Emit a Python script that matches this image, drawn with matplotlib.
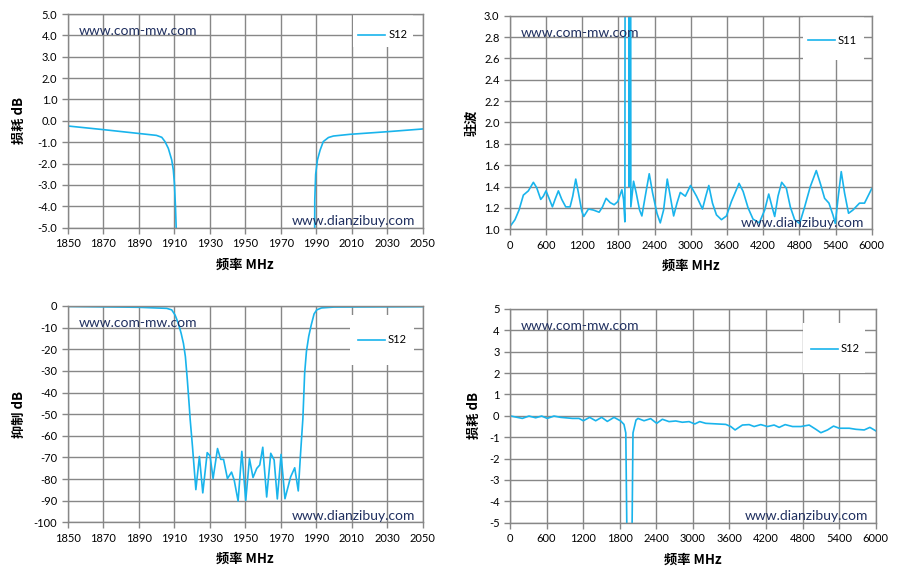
import matplotlib
matplotlib.use('Agg')
import matplotlib.pyplot as plt
from matplotlib.patches import Rectangle

plt.rcParams['font.family'] = ['Lato', 'Noto Sans CJK SC', 'DejaVu Sans']

# S12 插损 (1850-2050 MHz)
loss_f = [1850, 1870, 1890, 1900, 1903, 1904.8, 1906.7, 1908.6, 1909.5, 1910.1, 1910.7, 1911.2, 1912,
          1989, 1989.2, 1989.7, 1990.7, 1992.2, 1994, 1996.9, 1999.7, 2009, 2029.7, 2050]
loss_db = [-0.24, -0.41, -0.59, -0.68, -0.77, -0.97, -1.29, -1.83, -2.3, -2.9, -4.0, -5.2, -9,
           -9, -3.7, -2.5, -1.83, -1.37, -0.97, -0.78, -0.71, -0.63, -0.51, -0.38]

# S11 驻波 (0-6000 MHz)
vswr_f = [0, 83, 150, 222, 305, 388, 443, 510, 554, 598, 648, 704, 748, 803, 859, 925, 997, 1041,
          1091, 1136, 1191, 1224, 1302, 1385, 1479, 1535, 1595, 1662, 1728, 1789, 1856, 1884, 1906,
          1922, 1965, 1975, 1992, 2005, 2050, 2094, 2150, 2188, 2244, 2310, 2366, 2438, 2493, 2548,
          2609, 2659, 2715, 2770, 2825, 2909, 2995, 3094, 3193, 3248, 3298, 3359, 3425, 3508, 3591,
          3673, 3800, 3867, 3950, 4032, 4135, 4225, 4292, 4352, 4391, 4446, 4507, 4584, 4650, 4722,
          4805, 4888, 4982, 5081, 5153, 5219, 5291, 5357, 5396, 5440, 5495, 5550, 5616, 5688, 5798,
          5881, 6000]
vswr = [1.025, 1.09, 1.18, 1.32, 1.36, 1.44, 1.39, 1.28, 1.31, 1.36, 1.29, 1.21, 1.28, 1.36, 1.28,
        1.21, 1.21, 1.31, 1.47, 1.34, 1.17, 1.12, 1.19, 1.18, 1.16, 1.21, 1.29, 1.25, 1.23, 1.26,
        1.37, 1.28, 1.07, 12, 12, 1.4, 12, 1.21, 1.45, 1.34, 1.18, 1.125, 1.31, 1.52, 1.34, 1.15,
        1.06, 1.18, 1.47, 1.31, 1.125, 1.245, 1.345, 1.31, 1.41, 1.31, 1.19, 1.31, 1.41, 1.245,
        1.135, 1.09, 1.125, 1.26, 1.43, 1.355, 1.20, 1.095, 1.06, 1.18, 1.33, 1.20, 1.12, 1.31, 1.44,
        1.385, 1.21, 1.09, 1.055, 1.21, 1.40, 1.55, 1.42, 1.29, 1.245, 1.135, 1.055, 1.28, 1.54,
        1.34, 1.15, 1.18, 1.245, 1.245, 1.38]

# S12 抑制 (1850-2050 MHz)
rej_f = [1850, 1870, 1889.8, 1905.8, 1908.6, 1910.5, 1912.3, 1913.9, 1915.2, 1916.3, 1917.4, 1918.5,
         1919, 1920.3, 1922.2, 1924.2, 1926.1, 1928.6, 1930.2, 1931.9, 1934.4, 1936.2, 1937.8,
         1940, 1942.3, 1943.8, 1946, 1948.1, 1950.3, 1952.4, 1954.4, 1956.5, 1958.2, 1959.9,
         1962.1, 1964.4, 1966.3, 1968.1, 1970.2, 1972.4, 1975.6, 1977.9, 1979.9, 1981.2, 1982.5,
         1983.5, 1984.5, 1985.8, 1987.2, 1988.8, 1990.3, 1993, 2000, 2025, 2050]
rej_db = [-0.2, -0.4, -0.6, -1.1, -1.8, -4.2, -8, -12.6, -17.3, -23.4, -34.2, -46.5,
          -52.5, -65, -84.9, -69.6, -86.4, -67.8, -69.3, -79.8, -65.9, -70.9, -70.9,
          -79.8, -76.8, -80.5, -90.2, -67.2, -89.9, -70.6, -79.3, -75.1, -73.5, -65.3,
          -88.3, -68.1, -71.2, -89.2, -68.6, -89.1, -79, -74.8, -85.5, -68.1, -52,
          -31, -21, -14, -8.8, -3.7, -1.8, -0.9, -0.5, -0.4, -0.3]

# S12 插损 宽带 (0-6000 MHz)
wide_f = [0, 202, 312, 421, 520, 612, 722, 831, 1023, 1132, 1203, 1307, 1406, 1504, 1597, 1707,
          1816, 1870, 1900, 1918, 1925, 1995, 2002, 2018, 2067, 2100, 2199, 2308, 2407, 2500,
          2609, 2719, 2828, 2938, 3031, 3113, 3211, 3540, 3622, 3693, 3813, 3923, 4005, 4114,
          4224, 4333, 4416, 4514, 4635, 4772, 4908, 5018, 5100, 5209, 5308, 5401, 5565, 5675,
          5811, 5904, 6000]
wide_db = [0, -0.12, -0.01, -0.09, -0.01, -0.12, -0.01, -0.07, -0.12, -0.12, -0.23, -0.07, -0.23,
           -0.07, -0.26, -0.07, -0.24, -0.4, -0.8, -5.5, -60, -60, -5.5, -0.8, -0.2, -0.12, -0.23,
           -0.13, -0.35, -0.16, -0.27, -0.24, -0.30, -0.27, -0.38, -0.27, -0.35, -0.40, -0.5,
           -0.66, -0.43, -0.41, -0.5, -0.41, -0.5, -0.43, -0.54, -0.41, -0.5, -0.5, -0.43, -0.63,
           -0.79, -0.66, -0.48, -0.58, -0.58, -0.63, -0.66, -0.54, -0.7]

line_color = '#19B4EC'
grid_color = '#878787'
mark_color = '#1F2F5F'
label_font = ['Noto Sans CJK SC', 'DejaVu Sans']

fig = plt.figure(figsize=(8.98, 5.77), dpi=100)


def make_axes(rect, x, y, name, xlim, xticks, ylim, yticks, yfmt, ylabel, box, leg_at, label_x):
    ax = fig.add_axes(rect)
    ax.plot(x, y, color=line_color, lw=1.2, label=name, zorder=2)
    ax.set_xlim(xlim)
    ax.set_ylim(ylim)
    ax.set_xticks(xticks)
    ax.set_yticks(yticks)
    ax.set_yticklabels([yfmt.format(v) for v in yticks])
    ax.grid(True, color=grid_color, lw=1.0)
    for s in ax.spines.values():
        s.set_color(grid_color)
        s.set_linewidth(1.0)
    ax.tick_params(colors=grid_color, labelcolor='black', labelsize=8, length=4, width=1.0)
    ax.set_xlabel('频率 MHz', family=label_font, fontsize=9.5, fontweight='bold', labelpad=6)
    ax.set_ylabel(ylabel, family=label_font, fontsize=9.5, fontweight='bold')
    ax.yaxis.set_label_coords(label_x, 0.5)
    # legend area
    ax.add_patch(Rectangle((box[0], box[1]), box[2], box[3], transform=ax.transAxes,
                           facecolor='white', edgecolor='none', zorder=2.5))
    leg = ax.legend(loc='center', bbox_to_anchor=leg_at,
                    frameon=False, fontsize=8, handlelength=2.4, handletextpad=0.3)
    leg.set_zorder(3)
    ax.text(0.03, 0.92, 'www.com-mw.com', transform=ax.transAxes, color=mark_color,
            fontsize=10, va='center', ha='left', zorder=4)
    ax.text(0.98, 0.03, 'www.dianzibuy.com', transform=ax.transAxes, color=mark_color,
            fontsize=10, va='center', ha='right', zorder=4)
    return ax


make_axes([0.0754, 0.6054, 0.3953, 0.3703], loss_f, loss_db, 'S12', (1850, 2050),
          range(1850, 2051, 20), (-5, 5), [i for i in range(-5, 6)], '{:.1f}',
          '损耗 dB', (0.804, 0.846, 0.169, 0.149), (0.888, 0.902), -0.117)

make_axes([0.5679, 0.6026, 0.4028, 0.3702], vswr_f, vswr, 'S11', (0, 6000),
          range(0, 6001, 600), (1.0, 3.0), [1.0 + 0.2 * i for i in range(11)], '{:.1f}',
          '驻波', (0.81, 0.793, 0.17, 0.20), (0.892, 0.886), -0.087)

make_axes([0.0754, 0.0948, 0.3953, 0.3749], rej_f, rej_db, 'S12', (1850, 2050),
          range(1850, 2051, 20), (-100, 0), list(range(-100, 1, 10)), '{:d}',
          '抑制 dB', (0.795, 0.727, 0.18, 0.231), (0.887, 0.843), -0.117)

make_axes([0.5679, 0.0941, 0.4073, 0.3704], wide_f, wide_db, 'S12', (0, 6000),
          range(0, 6001, 600), (-5, 5), list(range(-5, 6)), '{:d}',
          '损耗 dB', (0.80, 0.70, 0.17, 0.234), (0.890, 0.813), -0.081)

fig.savefig('out.png', dpi=100)
